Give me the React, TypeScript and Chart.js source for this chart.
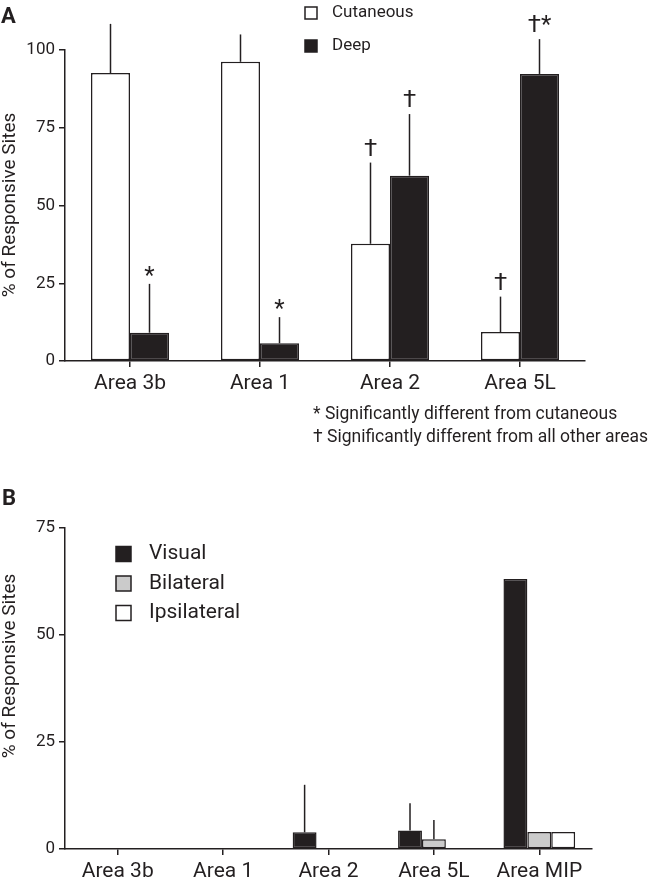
import React, { useEffect, useRef } from "react";
import { Chart, registerables } from "chart.js";

Chart.register(...registerables);

// ---------- Data: panel A ----------
const areasA = ["Area 3b", "Area 1", "Area 2", "Area 5L"];
const cutaneous = [92.6, 96.2, 37.7, 9.3];
const cutaneousErrTop = [108.4, 105.0, 63.8, 20.7];
const cutaneousMarks = ["", "", "†", "†"];
const deep = [9.1, 5.7, 59.6, 92.3];
const deepErrTop = [24.8, 14.1, 79.4, 103.5];
const deepMarks = ["*", "*", "†", "†*"];
const yTicksA = [0, 25, 50, 75, 100];
const footnotesA = [
  "* Significantly different from cutaneous",
  "† Significantly different from all other areas",
];

// ---------- Data: panel B ----------
const areasB = ["Area 3b", "Area 1", "Area 2", "Area 5L", "Area MIP"];
const visual = [0, 0, 3.9, 4.3, 63.1];
const visualErrTop = [null, null, 15.0, 10.7, null];
const bilateral = [0, 0, 0, 2.3, 4.0];
const bilateralErrTop = [null, null, null, 6.8, null];
const ipsilateral = [0, 0, 0, 0, 4.0];
const yTicksB = [0, 25, 50, 75];

const yTitle = "% of Responsive Sites";

// ---------- Styling ----------
const INK = "#231f20";
const GREY = "#cbcbcb";
const FONT = "Roboto, 'Open Sans', sans-serif";

const errorBarPlugin = {
  id: "errorBars",
  afterDatasetsDraw(chart: any) {
    const ctx = chart.ctx;
    const yScale = chart.scales.y;
    chart.data.datasets.forEach((ds: any, i: number) => {
      const hi = ds.errorTop;
      if (!hi) return;
      const meta = chart.getDatasetMeta(i);
      meta.data.forEach((el: any, j: number) => {
        const v = hi[j];
        if (v == null) return;
        const yTop = yScale.getPixelForValue(v);
        ctx.save();
        ctx.strokeStyle = INK;
        ctx.lineWidth = 1.5;
        ctx.beginPath();
        ctx.moveTo(el.x, el.y);
        ctx.lineTo(el.x, yTop);
        ctx.stroke();
        const mark = ds.marks ? ds.marks[j] : "";
        if (mark) {
          ctx.fillStyle = INK;
          ctx.textAlign = "center";
          ctx.textBaseline = "alphabetic";
          ctx.font = `24px ${FONT}`;
          const off = mark.indexOf("†") >= 0 ? 7 : 1;
          ctx.fillText(mark, el.x, yTop - off);
        }
        ctx.restore();
      });
    });
  },
};

const overlayPlugin = {
  id: "overlay",
  afterDraw(chart: any, _args: any, opts: any) {
    const ctx = chart.ctx;
    ctx.save();
    ctx.fillStyle = INK;
    (opts.texts || []).forEach((t: any) => {
      ctx.save();
      ctx.font = t.font;
      ctx.textAlign = t.align || "left";
      ctx.textBaseline = t.baseline || "middle";
      ctx.translate(t.x, t.y);
      if (t.rotate) ctx.rotate(t.rotate);
      ctx.fillStyle = INK;
      ctx.fillText(t.text, 0, 0);
      ctx.restore();
    });
    const lg = opts.legend;
    if (lg) {
      chart.data.datasets.forEach((ds: any, i: number) => {
        const cy = lg.y + i * lg.dy;
        ctx.save();
        ctx.fillStyle = ds.backgroundColor;
        ctx.strokeStyle = INK;
        ctx.lineWidth = 1.5;
        ctx.fillRect(lg.x, cy - lg.box / 2, lg.box, lg.box);
        ctx.strokeRect(lg.x, cy - lg.box / 2, lg.box, lg.box);
        ctx.fillStyle = INK;
        ctx.font = lg.font;
        ctx.textAlign = "left";
        ctx.textBaseline = "middle";
        ctx.fillText(ds.label, lg.textX, cy);
        ctx.restore();
      });
    }
    ctx.restore();
  },
};

function axisX(height: number) {
  return {
    type: "category" as const,
    offset: true,
    grid: {
      offset: false,
      drawOnChartArea: false,
      drawTicks: true,
      tickLength: 6,
      color: INK,
      lineWidth: 1.5,
    },
    border: { display: true, color: INK, width: 1.5 },
    ticks: {
      color: INK,
      font: { family: FONT, size: 21 },
      padding: 4,
      maxRotation: 0,
      autoSkip: false,
    },
    afterFit: (s: any) => {
      s.height = height;
    },
  };
}

function axisY(max: number, ticks: number[]) {
  return {
    min: 0,
    max,
    afterBuildTicks: (s: any) => {
      s.ticks = ticks.map((v) => ({ value: v }));
    },
    grid: {
      drawOnChartArea: false,
      drawTicks: true,
      tickLength: 6,
      color: INK,
      lineWidth: 1.5,
    },
    border: { display: true, color: INK, width: 1.5 },
    ticks: {
      color: INK,
      font: { family: FONT, size: 17 },
      padding: 4,
    },
    afterFit: (s: any) => {
      s.width = 65;
    },
  };
}

export default function App() {
  const refA = useRef<HTMLCanvasElement>(null);
  const refB = useRef<HTMLCanvasElement>(null);

  useEffect(() => {
    document.body.style.margin = "0";
    document.body.style.overflow = "hidden";

    const chartA = new Chart(refA.current as HTMLCanvasElement, {
      type: "bar",
      data: {
        labels: areasA,
        datasets: [
          {
            label: "Cutaneous",
            data: cutaneous,
            backgroundColor: "#ffffff",
            borderColor: INK,
            borderWidth: 1.5,
            borderSkipped: false,
            errorTop: cutaneousErrTop,
            marks: cutaneousMarks,
          } as any,
          {
            label: "Deep",
            data: deep,
            backgroundColor: INK,
            borderColor: INK,
            borderWidth: 1.5,
            borderSkipped: false,
            errorTop: deepErrTop,
            marks: deepMarks,
          } as any,
        ],
      },
      options: {
        responsive: false,
        animation: false,
        layout: { padding: { top: 50, right: 65, left: 0, bottom: 0 } },
        datasets: { bar: { categoryPercentage: 0.6, barPercentage: 1 } },
        scales: { x: axisX(94) as any, y: axisY(100, yTicksA) as any },
        plugins: {
          legend: { display: false },
          tooltip: { enabled: false },
          overlay: {
            texts: [
              { text: "A", x: 1, y: 23, font: `bold 22px ${FONT}`, baseline: "alphabetic" },
              { text: yTitle, x: 10, y: 205, font: `19px ${FONT}`, align: "center", rotate: -Math.PI / 2 },
              { text: footnotesA[0], x: 313, y: 415, font: `17.5px ${FONT}` },
              { text: footnotesA[1], x: 313, y: 438, font: `17.5px ${FONT}` },
            ],
            legend: { x: 305, y: 13, dy: 33, box: 12, textX: 332, font: `17px ${FONT}` },
          },
        } as any,
      },
      plugins: [errorBarPlugin, overlayPlugin],
    });

    const chartB = new Chart(refB.current as HTMLCanvasElement, {
      type: "bar",
      data: {
        labels: areasB,
        datasets: [
          {
            label: "Visual",
            data: visual,
            backgroundColor: INK,
            borderColor: INK,
            borderWidth: 1.5,
            borderSkipped: false,
            errorTop: visualErrTop,
          } as any,
          {
            label: "Bilateral",
            data: bilateral,
            backgroundColor: GREY,
            borderColor: INK,
            borderWidth: 1.5,
            borderSkipped: false,
            errorTop: bilateralErrTop,
          } as any,
          {
            label: "Ipsilateral",
            data: ipsilateral,
            backgroundColor: "#ffffff",
            borderColor: INK,
            borderWidth: 1.5,
            borderSkipped: false,
          } as any,
        ],
      },
      options: {
        responsive: false,
        animation: false,
        layout: { padding: { top: 58, right: 58, left: 0, bottom: 0 } },
        datasets: { bar: { categoryPercentage: 0.68, barPercentage: 1 } },
        scales: { x: axisX(33) as any, y: axisY(75, yTicksB) as any },
        plugins: {
          legend: { display: false },
          tooltip: { enabled: false },
          overlay: {
            texts: [
              { text: "B", x: 2, y: 35, font: `bold 22px ${FONT}`, baseline: "alphabetic" },
              { text: yTitle, x: 10, y: 196, font: `19px ${FONT}`, align: "center", rotate: -Math.PI / 2 },
            ],
            legend: { x: 116, y: 84, dy: 29.5, box: 15, textX: 149, font: `21px ${FONT}` },
          },
        } as any,
      },
      plugins: [errorBarPlugin, overlayPlugin],
    });

    return () => {
      chartA.destroy();
      chartB.destroy();
    };
  }, []);

  return (
    <div style={{ position: "relative", width: 650, height: 882, background: "#fff" }}>
      <canvas ref={refA} width={650} height={455} style={{ position: "absolute", left: 0, top: 0 }} />
      <canvas ref={refB} width={650} height={412} style={{ position: "absolute", left: 0, top: 470 }} />
    </div>
  );
}
